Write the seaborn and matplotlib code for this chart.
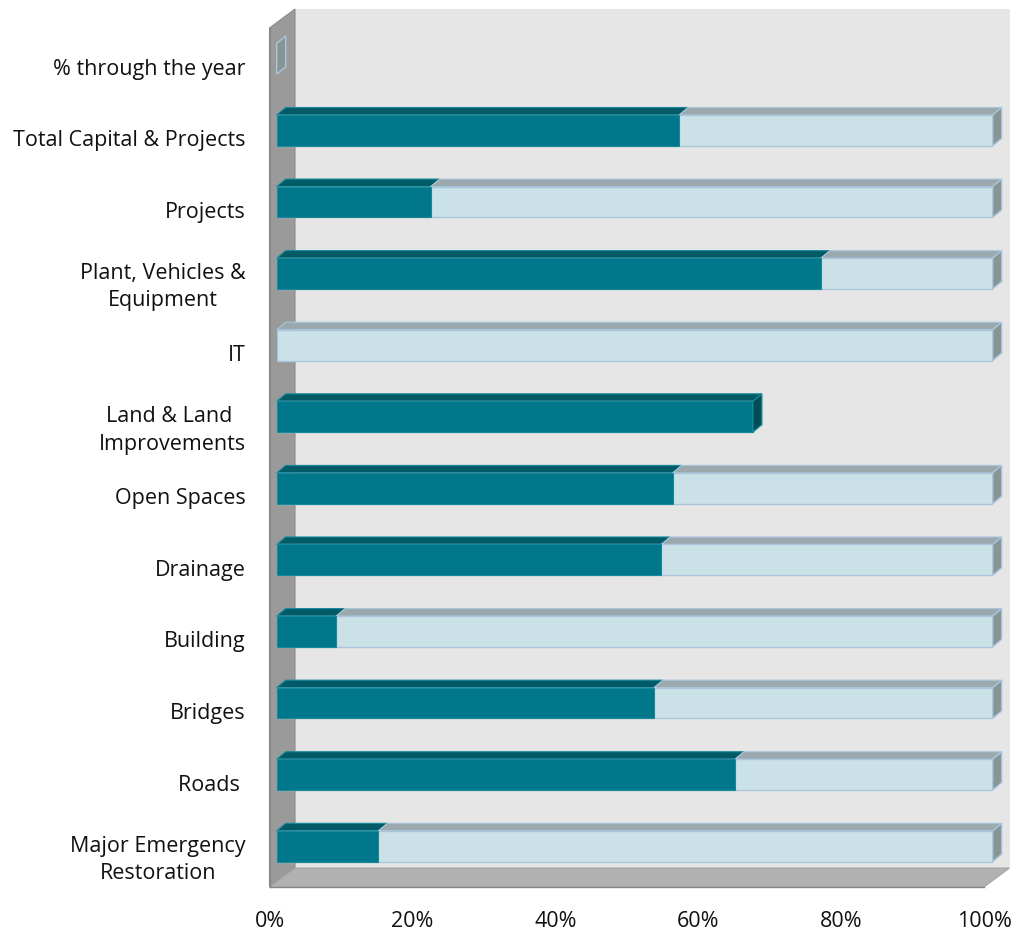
import numpy as np
import pandas as pd
import seaborn as sns
import matplotlib.pyplot as plt
import matplotlib.transforms as mtransforms
from matplotlib.patches import Polygon
from matplotlib.ticker import PercentFormatter

# ---- data -------------------------------------------------------------
categories = [
    "% through the year",
    "Total Capital & Projects",
    "Projects",
    "Plant, Vehicles &\nEquipment",
    "IT",
    "Land & Land \nImprovements",
    "Open Spaces",
    "Drainage",
    "Building",
    "Bridges",
    "Roads ",
    "Major Emergency\nRestoration",
]
spent = [0.0, 56.2, 21.5, 76.0, 0.0, 66.5, 55.3, 53.7, 8.3, 52.7, 64.0, 14.2]
remaining = [0.0, 43.8, 78.5, 24.0, 100.0, 0.0, 44.7, 46.3, 91.7, 47.3, 36.0, 85.8]
x_ticks = [0, 20, 40, 60, 80, 100]

df = pd.DataFrame({"category": categories, "spent": spent, "remaining": remaining})
df["total"] = df["spent"] + df["remaining"]

# ---- style ------------------------------------------------------------
DARK, DARK_TOP, DARK_SIDE, DARK_EDGE = "#00778a", "#005b67", "#004c57", "#17899a"
LIGHT, LIGHT_TOP, LIGHT_SIDE, LIGHT_EDGE = "#cae2e7", "#9ba9ae", "#879595", "#a9c6dc"
BACK_WALL, SIDE_WALL, FLOOR = "#e6e6e6", "#9a9a9a", "#b1b1b1"
AXIS_GREY = "#868686"
FONT_SIZE = 15.5

sns.set_style("white")
plt.rcParams["font.family"] = ["Open Sans", "DejaVu Sans"]

W, H = 1017, 935
fig = plt.figure(figsize=(W / 100, H / 100), dpi=100)


def frame(left, top, right, bottom):
    return [left / W, 1 - bottom / H, (right - left) / W, (bottom - top) / H]


n = len(categories)
ax = fig.add_axes(frame(269.5, 28, 984, 887))      # front plane with axes and walls
axb = fig.add_axes(frame(276.7, 23, 992.7, 882))   # plane the bars sit in

# ---- walls and floor (depth expressed in pixels, converted to data units) ----
px_x = 100 / 714.5
px_y = n / 859
DX, DY = 25.5 * px_x, -19 * px_y
top, bot = -0.5, n - 0.5

walls = [
    ([(DX, top + DY), (100 + DX, top + DY), (100 + DX, bot + DY), (DX, bot + DY)], BACK_WALL, "none"),
    ([(0, bot), (0, top), (DX, top + DY), (DX, bot + DY)], SIDE_WALL, "#8c8c8c"),
    ([(0, bot), (100, bot), (100 + DX, bot + DY), (DX, bot + DY)], FLOOR, "#a4a4a4"),
]
for pts, fc, ec in walls:
    ax.add_patch(Polygon(pts, closed=True, facecolor=fc, edgecolor=ec,
                         linewidth=0.8, clip_on=False, zorder=0.5))

ax.set_xlim(0, 100)
ax.set_ylim(bot, top)
ax.set_facecolor("none")
for s in ("top", "right"):
    ax.spines[s].set_visible(False)
for s in ("left", "bottom"):
    ax.spines[s].set_color(AXIS_GREY)
    ax.spines[s].set_linewidth(1.0)

ax.set_xticks(x_ticks)
ax.xaxis.set_major_formatter(PercentFormatter(decimals=0))
ax.set_yticks(np.arange(-0.5, n, 1.0))
ax.set_yticklabels([])
ax.set_yticks(np.arange(n), minor=True)
ax.set_yticklabels(categories, minor=True)
ax.tick_params(axis="y", which="major", length=5, width=1, color=AXIS_GREY)
ax.tick_params(axis="y", which="minor", length=0, pad=17, labelsize=FONT_SIZE, labelcolor="#111111")
ax.tick_params(axis="x", length=5, width=1, color=AXIS_GREY, pad=12, labelsize=FONT_SIZE, labelcolor="#111111")

# category labels sit a little below the row centre
nudge = mtransforms.ScaledTranslation(0, -0.03, fig.dpi_scale_trans)
for lab in ax.get_yticklabels(minor=True):
    lab.set_multialignment("center")
    lab.set_linespacing(1.4)
    lab.set_transform(lab.get_transform() + nudge)

# ---- bars ---------------------------------------------------------------
BAR_H = 0.43
sns.barplot(data=df, y="category", x="total", orient="h", color=LIGHT, width=BAR_H,
            edgecolor=LIGHT_EDGE, linewidth=1.0, saturation=1, ax=axb, zorder=3)
sns.barplot(data=df, y="category", x="spent", orient="h", color=DARK, width=BAR_H,
            edgecolor=DARK_EDGE, linewidth=0.8, saturation=1, ax=axb, zorder=3)
for p in axb.patches:
    if p.get_width() <= 0:
        p.set_visible(False)

axb.set_xlim(0, 100)
axb.set_ylim(bot, top)
axb.axis("off")

# bar depth (top faces and end caps)
ddx, ddy = 9 * 100 / 716, -7.5 * px_y
for i, row in df.iterrows():
    y_top, y_bot = i - BAR_H / 2, i + BAR_H / 2
    segments = [(0, row["spent"], DARK_TOP, DARK_EDGE),
                (row["spent"], row["total"], LIGHT_TOP, LIGHT_EDGE)]
    for a, b, fc, ec in segments:
        if b > a:
            axb.add_patch(Polygon([(a, y_top), (b, y_top), (b + ddx, y_top + ddy), (a + ddx, y_top + ddy)],
                                  closed=True, facecolor=fc, edgecolor=ec, linewidth=0.8,
                                  clip_on=False, zorder=2))
    end = row["total"]
    if row["remaining"] > 0 or row["spent"] == 0:
        side_fc, side_ec = LIGHT_SIDE, LIGHT_EDGE
    else:
        side_fc, side_ec = DARK_SIDE, DARK_EDGE
    axb.add_patch(Polygon([(end, y_top), (end, y_bot), (end + ddx, y_bot + ddy), (end + ddx, y_top + ddy)],
                          closed=True, facecolor=side_fc, edgecolor=side_ec, linewidth=1.0,
                          clip_on=False, zorder=4))

fig.savefig("out.png", dpi=100, facecolor="white")
